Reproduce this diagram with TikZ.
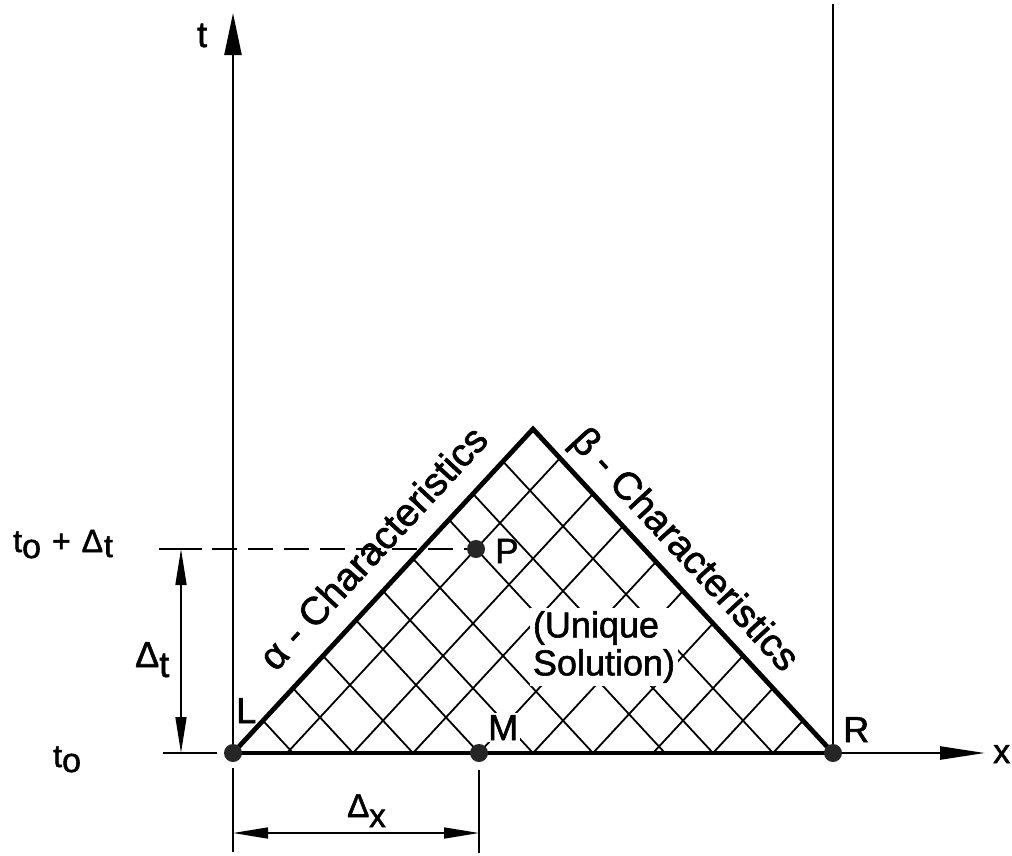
\documentclass[tikz,border=0pt]{standalone}
\usepackage{fontspec}
\setmainfont{Liberation Sans}[RawFeature={embolden=1.6}]
\usetikzlibrary{arrows.meta}
\newcommand{\tsubo}[1]{t\raisebox{-#1}{\fontsize{34}{34}\selectfont o}}
\begin{document}
\begin{tikzpicture}[x=1pt,y=-1pt,
  axisline/.style={line width=2.4pt},
  edgeline/.style={line width=4.8pt, line join=miter},
  hatch/.style={line width=1.8pt},
  dimline/.style={line width=1.6pt},
  dot/.style={circle, fill=black!85, minimum size=18pt, inner sep=0pt},
  lbl/.style={inner sep=0pt, font=\fontsize{36}{38}\selectfont},
  sublbl/.style={inner sep=0pt, font=\fontsize{32}{32}\selectfont}]
\useasboundingbox (0,0) rectangle (1012,855);
% key points
\coordinate (L) at (233,753);
\coordinate (R) at (833,753);
\coordinate (A) at (533,429);
\coordinate (M) at (479,753);
\coordinate (P) at (476,549);
\coordinate (ttip) at (233,13);
\coordinate (xtip) at (985,753);
\coordinate (Rtop) at (833,4);
\coordinate (dashstart) at (212,549);
% hatching (characteristic grid)
\foreach \t in {1,2,3,4.1,5,6,7.2,8,9}
  \draw[hatch] ({233+30*\t},{753-32.4*\t}) -- ({233+60*\t},753);
\foreach \s in {0.9,2,3,4.1,5,6,7,8,9}
  \draw[hatch] ({233+60*\s},753) -- ({533+30*\s},{429+32.4*\s});
% text that interrupts the hatching
\node[lbl, fill=white, inner sep=3pt, align=left] (uniq) at (604,647) {(Unique\\Solution)};
\node[lbl, fill=white, inner sep=2pt, anchor=base west] (Mlbl) at (486,740) {M};
% dashed level line
\draw[line width=1.8pt, dash pattern=on 25pt off 11pt] (dashstart) -- (P);
% triangle edges and axes
\draw[edgeline] (L) -- (A) -- (R);
\draw[line width=4pt] (L) -- (R);
\draw[axisline, -{Triangle[length=45pt,width=13pt]}] (R) -- (xtip);
\draw[axisline, -{Triangle[length=42pt,width=17pt]}] (L) -- (ttip);
\draw[axisline] (Rtop) -- (R);
% dimension Delta t
\coordinate (dtT) at (181,549);
\coordinate (dtB) at (181,753);
\coordinate (tkTa) at (159,549);
\coordinate (tkTb) at (202,549);
\coordinate (tkBa) at (163,753);
\coordinate (tkBb) at (217,753);
\draw[dimline, {Triangle[length=36pt,width=11pt]}-{Triangle[length=36pt,width=11pt]}] (dtT) -- (dtB);
\draw[dimline] (tkTa) -- (tkTb);
\draw[dimline] (tkBa) -- (tkBb);
% dimension Delta x
\coordinate (dxL) at (233,833);
\coordinate (dxR) at (479,833);
\coordinate (tkLa) at (233,768);
\coordinate (tkLb) at (233,852);
\coordinate (tkRa) at (479,770);
\coordinate (tkRb) at (479,853);
\draw[dimline, {Triangle[length=35pt,width=11pt]}-{Triangle[length=35pt,width=11pt]}] (dxL) -- (dxR);
\draw[dimline] (tkLa) -- (tkLb);
\draw[dimline] (tkRa) -- (tkRb);
% dots
\node[dot] (Ldot) at (L) {};
\node[dot] (Mdot) at (M) {};
\node[dot] (Rdot) at (R) {};
\node[dot] (Pdot) at (P) {};
% labels
\node[lbl, anchor=base west] (Llbl) at (236,723) {L};
\node[lbl, anchor=base west] (Rlbl) at (843,742) {R};
\node[lbl, anchor=base west, font=\fontsize{35}{35}\selectfont] (Plbl) at (495,563) {P};
\node[lbl, anchor=base west, font=\fontsize{34}{34}\selectfont] (xlbl) at (993,763) {x};
\node[lbl, anchor=base west] (tlbl) at (197,47) {t};
\node[sublbl, anchor=base west] (t0dt) at (13,552) {\tsubo{6pt}\hspace{11pt}+\hspace{11pt}Δ\hspace{1pt}\raisebox{-5pt}{t}};
\node[sublbl, anchor=base west] (t0) at (53,767) {\tsubo{5pt}};
\node[sublbl, anchor=base west, font=\fontsize{36}{36}\selectfont] (dtlbl) at (135,667) {Δ\raisebox{-10pt}{t}};
\node[sublbl, anchor=base west, font=\fontsize{33}{33}\selectfont] (dxlbl) at (347,817) {Δ\raisebox{-10pt}{x}};
\node[lbl, font=\fontsize{39}{39}\selectfont, rotate=47.2, anchor=base] (alab) at (383,557) {α - Characteristics};
\node[lbl, font=\fontsize{39}{39}\selectfont, rotate=-47.2, anchor=base] (blab) at (676,558) {β - Characteristics};
\end{tikzpicture}
\end{document}
